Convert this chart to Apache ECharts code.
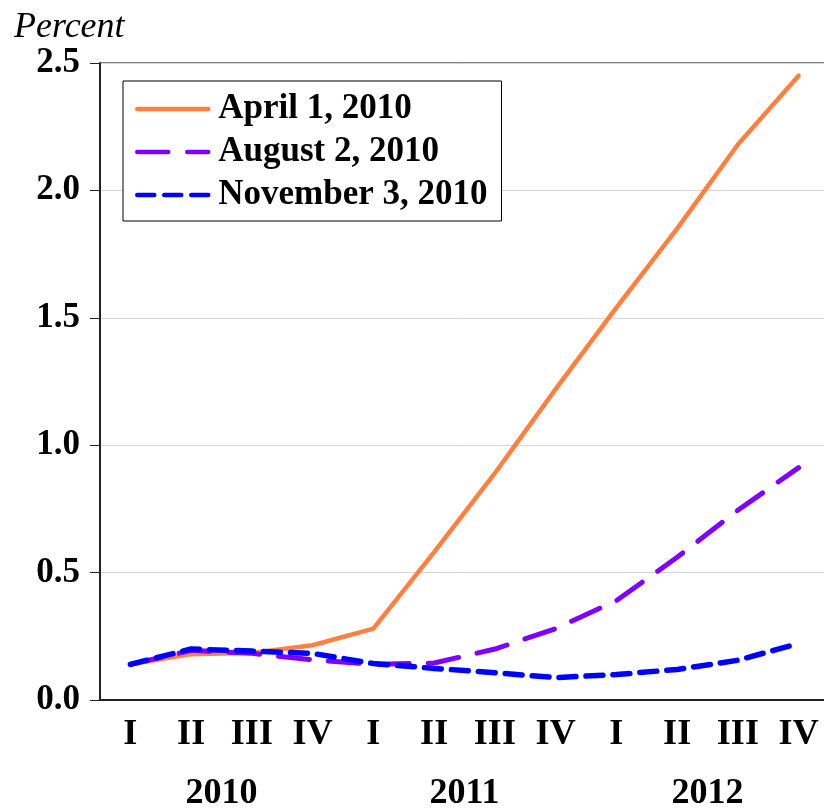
<!DOCTYPE html>
<html>
<head>
<meta charset="utf-8">
<script src="https://cdn.jsdelivr.net/npm/echarts@6/dist/echarts.min.js"></script>
<style>
  html, body { margin: 0; padding: 0; background: #fff; }
  #main { width: 824px; height: 809px; }
</style>
</head>
<body>
<div id="main"></div>
<script>
// quarters 2010 Q1 .. 2012 Q4
const quarters = ['I', 'II', 'III', 'IV', 'I', 'II', 'III', 'IV', 'I', 'II', 'III', 'IV'];
const years = ['2010', '2011', '2012'];
const yTicks = [0, 0.5, 1.0, 1.5, 2.0, 2.5];

const april = [0.14, 0.18, 0.185, 0.215, 0.28, 0.58, 0.89, 1.22, 1.54, 1.85, 2.18, 2.45];
const august = [0.14, 0.195, 0.183, 0.158, 0.14, 0.145, 0.2, 0.28, 0.39, 0.56, 0.745, 0.912];
const november = [0.14, 0.2, 0.192, 0.183, 0.143, 0.124, 0.107, 0.088, 0.1, 0.12, 0.156, 0.222];

const serif = '"Liberation Serif", "DejaVu Serif", serif';

let myChart = echarts.init(document.getElementById('main'));
let option = {
    animation: false,
    title: {
        text: 'Percent',
        left: 9,
        top: 5,
        textStyle: { fontFamily: serif, fontStyle: 'italic', fontWeight: 'normal', fontSize: 36, color: '#000' }
    },
    legend: {
        data: ['April 1, 2010', 'August 2, 2010', 'November 3, 2010'],
        orient: 'vertical',
        left: 123,
        top: 81,
        padding: [9, 14, 7, 12],
        itemGap: 5,
        itemWidth: 71,
        itemHeight: 20,
        backgroundColor: '#fff',
        borderColor: '#000',
        borderWidth: 1,
        itemStyle: { opacity: 0 },
        lineStyle: { width: 4.5 },
        textStyle: { fontFamily: serif, fontWeight: 'bold', fontSize: 35, color: '#000', padding: [0, 0, 0, 5], lineHeight: 38 }
    },
    grid: {
        left: 100,
        right: -5,
        top: 63,
        bottom: 109,
        outerBoundsMode: 'none',
        containLabel: false,
        show: true,
        borderColor: '#000',
        borderWidth: 1
    },
    xAxis: [
        {
            type: 'category',
            data: quarters,
            axisLine: { lineStyle: { color: '#222', width: 2 } },
            axisTick: { length: 6, interval: 0, lineStyle: { color: '#222', width: 1 } },
            axisLabel: { interval: 0, margin: 17, fontFamily: serif, fontWeight: 'bold', fontSize: 36, color: '#000' }
        },
        {
            type: 'category',
            position: 'bottom',
            data: years,
            axisLine: { show: false },
            axisTick: { length: 10, lineStyle: { color: '#222', width: 1 } },
            axisLabel: { margin: 76, fontFamily: serif, fontWeight: 'bold', fontSize: 36, color: '#000' }
        }
    ],
    yAxis: {
        type: 'value',
        min: yTicks[0],
        max: yTicks[yTicks.length - 1],
        interval: 0.5,
        axisLine: { show: true, lineStyle: { color: '#222', width: 2 } },
        axisTick: { show: true, length: 10, lineStyle: { color: '#222', width: 1 } },
        splitLine: { lineStyle: { color: '#d4d4d4', width: 1 } },
        axisLabel: {
            margin: 20,
            fontFamily: serif, fontWeight: 'bold', fontSize: 35, color: '#000',
            formatter: function (v) { return v.toFixed(1); }
        }
    },
    series: [
        {
            name: 'April 1, 2010',
            type: 'line',
            data: april,
            symbol: 'none',
            z: 3,
            lineStyle: { color: '#FF8040', width: 4.5, cap: 'round' },
            itemStyle: { color: '#FF8040' }
        },
        {
            name: 'August 2, 2010',
            type: 'line',
            data: august,
            symbol: 'none',
            z: 4,
            lineStyle: { color: '#8000FF', width: 5, type: [31, 19], cap: 'round' },
            itemStyle: { color: '#8000FF' }
        },
        {
            name: 'November 3, 2010',
            type: 'line',
            data: november,
            symbol: 'none',
            z: 5,
            lineStyle: { color: '#0000FF', width: 5.5, type: [17, 10], cap: 'round' },
            itemStyle: { color: '#0000FF' }
        }
    ]
};
myChart.clear();
myChart.setOption(option);
</script>
</body>
</html>
